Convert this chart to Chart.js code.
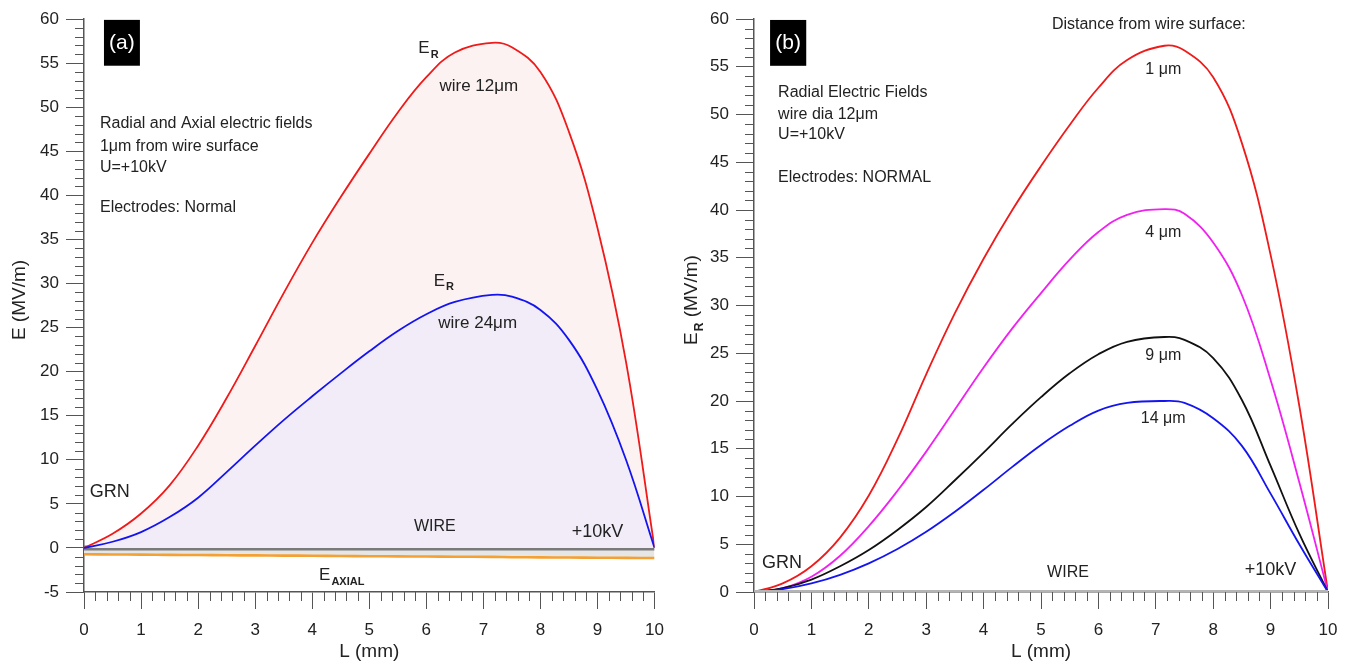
<!DOCTYPE html>
<html>
<head>
<meta charset="utf-8">
<script src="https://cdn.jsdelivr.net/npm/chart.js@4.4.0/dist/chart.umd.min.js"></script>
<style>
  html, body { margin: 0; padding: 0; background: #fff; }
  #wrap { position: relative; width: 1350px; height: 664px; overflow: hidden; }
  .panel { position: absolute; top: 0; width: 675px; height: 664px; }
</style>
</head>
<body>
<div id="wrap">
  <div class="panel" style="left:0"><canvas id="chartA" width="675" height="664"></canvas></div>
  <div class="panel" style="left:675px"><canvas id="chartB" width="675" height="664"></canvas></div>
</div>
<script>
const FONT = '"Liberation Sans", Arial, Helvetica, sans-serif';

// distance along the wire, mm (7.15 = position of the maximum)
const L = [0, 0.5, 1, 1.5, 2, 2.5, 3, 3.5, 4, 4.5, 5, 5.5, 6, 6.5, 7.15, 7.5, 8, 8.5, 9, 9.5, 10];

// panel (a): 1um from wire surface
const radial12 = [0, 1.6, 3.9, 7.1, 11.6, 17.0, 22.9, 28.9, 34.6, 39.8, 44.7, 49.4, 53.4, 56.2, 57.3, 56.8, 54.0, 47.2, 36.3, 21.1, 0];
const radial24 = [0, 0.7, 1.8, 3.5, 5.7, 8.6, 11.6, 14.5, 17.2, 19.8, 22.3, 24.6, 26.5, 27.9, 28.7, 28.5, 27.0, 23.6, 17.9, 10.0, 0];
const axial = [-0.72, -0.74, -0.76, -0.79, -0.81, -0.83, -0.85, -0.87, -0.89, -0.92, -0.94, -0.96, -0.98, -1.0, -1.02, -1.05, -1.07, -1.09, -1.11, -1.13, -1.15];
const wire = [0, 0, 0, 0, 0, 0, 0, 0, 0, 0, 0, 0, 0, 0, 0, 0, 0, 0, 0, 0, 0];

// panel (b): wire dia 12um, distance from surface
const d1um = [0, 0.9, 2.7, 5.7, 10.1, 16.0, 22.8, 29.2, 34.9, 40.0, 44.6, 48.9, 52.8, 55.7, 57.2, 56.7, 53.9, 47.0, 35.3, 19.5, 0];
const d4um = [0, 0.4, 1.6, 3.8, 6.9, 10.6, 14.7, 19.1, 23.5, 27.6, 31.3, 34.8, 37.7, 39.5, 40.1, 39.6, 36.6, 31.1, 22.2, 11.5, 0];
const d9um = [0, 0.4, 1.3, 2.7, 4.4, 6.5, 8.9, 11.7, 14.6, 17.6, 20.4, 22.9, 24.9, 26.2, 26.7, 26.4, 24.5, 20.1, 13.2, 6.1, 0];
const d14um = [0, 0.3, 0.9, 1.8, 3.0, 4.5, 6.3, 8.4, 10.7, 13.1, 15.4, 17.4, 19.0, 19.8, 20.0, 19.8, 18.2, 15.3, 10.3, 5.0, 0];

const pts = arr => arr.map((v, i) => ({ x: L[i], y: v }));

function line(data, color, width, fill, fillColor) {
  return {
    data: pts(data),
    borderColor: color,
    borderWidth: width,
    pointRadius: 0,
    tension: 0.4,
    fill: fill ? 'origin' : false,
    backgroundColor: fillColor || 'transparent'
  };
}

function txt(ctx, s, x, y, size, opts = {}) {
  ctx.font = (opts.bold ? 'bold ' : '') + size + 'px ' + FONT;
  ctx.fillStyle = opts.color || '#222';
  ctx.textAlign = opts.align || 'left';
  ctx.textBaseline = 'middle';
  ctx.fillText(s, x, y);
  return ctx.measureText(s).width;
}

function subText(ctx, main, sub, x, y, size, subSize) {
  const w = txt(ctx, main, x, y, size);
  txt(ctx, sub, x + w + 1, y + size * 0.38, subSize, { bold: true });
}

// minor ticks every 1 on y and every 0.2 on x
const minorTicks = {
  id: 'minorTicks',
  afterDraw(chart) {
    const { ctx, scales: { x, y } } = chart;
    ctx.save();
    ctx.strokeStyle = '#555';
    ctx.lineWidth = 1;
    ctx.beginPath();
    for (let i = 0; i <= 50; i++) {
      if (i % 5 === 0) continue;
      const px = Math.round(x.getPixelForValue(i * 0.2)) + 0.5;
      ctx.moveTo(px, y.bottom);
      ctx.lineTo(px, y.bottom + 9);
    }
    for (let v = Math.ceil(y.min); v <= y.max; v++) {
      if (v % 5 === 0) continue;
      const py = Math.round(y.getPixelForValue(v)) + 0.5;
      ctx.moveTo(x.left - 9, py);
      ctx.lineTo(x.left, py);
    }
    ctx.stroke();
    ctx.restore();
  }
};

function scalesFor(yMin, yWidth) {
  return {
    x: {
      type: 'linear', min: 0, max: 10,
      ticks: { stepSize: 1, font: { family: FONT, size: 17 }, color: '#222', padding: 11, maxRotation: 0, autoSkip: false },
      grid: { drawOnChartArea: false, drawTicks: true, tickLength: 17, color: '#555' },
      border: { display: true, color: '#555', width: 1.5 },
      afterFit: s => { s.height = 72; }
    },
    y: {
      type: 'linear', min: yMin, max: 60,
      ticks: { stepSize: 5, font: { family: FONT, size: 17 }, color: '#222', padding: 7 },
      grid: { drawOnChartArea: false, drawTicks: true, tickLength: 18, color: '#555' },
      border: { display: true, color: '#555', width: 1.5 },
      afterFit: s => { s.width = yWidth; }
    }
  };
}

// ---------- panel (a) ----------
const notesA = {
  id: 'notesA',
  afterDraw(chart) {
    const { ctx, scales: { x, y }, chartArea: ca } = chart;
    const X = v => x.getPixelForValue(v), Y = v => y.getPixelForValue(v);
    ctx.save();
    ctx.fillStyle = '#000';
    ctx.fillRect(X(0.35), Y(59.9), X(0.98) - X(0.35), Y(54.7) - Y(59.9));
    txt(ctx, '(a)', (X(0.35) + X(0.98)) / 2, (Y(59.9) + Y(54.7)) / 2, 21, { color: '#fff', align: 'center' });

    txt(ctx, 'Radial and Axial electric fields', X(0.28), Y(48.1), 16);
    txt(ctx, '1μm from wire surface', X(0.28), Y(45.5), 16);
    txt(ctx, 'U=+10kV', X(0.28), Y(43.2), 16);
    txt(ctx, 'Electrodes: Normal', X(0.28), Y(38.6), 16);

    subText(ctx, 'E', 'R', X(5.86), Y(56.7), 17, 11);
    txt(ctx, 'wire 12μm', X(6.23), Y(52.4), 17);
    subText(ctx, 'E', 'R', X(6.13), Y(30.3), 17, 11);
    txt(ctx, 'wire 24μm', X(6.21), Y(25.5), 17);

    txt(ctx, 'GRN', X(0.1), Y(6.35), 18);
    txt(ctx, 'WIRE', X(6.15), Y(2.4), 16, { align: 'center' });
    txt(ctx, '+10kV', X(8.55), Y(1.8), 18);
    subText(ctx, 'E', 'AXIAL', X(4.12), Y(-3.1), 17, 11);

    // axis titles
    txt(ctx, 'L (mm)', (ca.left + ca.right) / 2, 652, 19, { align: 'center' });
    ctx.translate(20, 300);
    ctx.rotate(-Math.PI / 2);
    txt(ctx, 'E (MV/m)', 0, 0, 19, { align: 'center' });
    ctx.restore();
  }
};

new Chart(document.getElementById('chartA'), {
  type: 'line',
  data: {
    datasets: [
      line(radial24, '#1414f0', 1.8, true, '#f1ecf7'),
      line(radial12, '#ef1a1a', 1.8, true, '#fdf2f2'),
      line(wire, '#7a7a7a', 5, false),
      line(axial, '#f5a033', 2.6, true, '#e6e6e6')
    ]
  },
  options: {
    responsive: false,
    animation: false,
    layout: { padding: { top: 19, right: 18, left: 0, bottom: 0 } },
    plugins: { legend: { display: false }, tooltip: { enabled: false } },
    scales: scalesFor(-5, 84)
  },
  plugins: [minorTicks, notesA]
});

// ---------- panel (b) ----------
const notesB = {
  id: 'notesB',
  afterDraw(chart) {
    const { ctx, scales: { x, y }, chartArea: ca } = chart;
    const X = v => x.getPixelForValue(v), Y = v => y.getPixelForValue(v);
    ctx.save();
    ctx.fillStyle = '#000';
    ctx.fillRect(X(0.28), Y(59.9), X(0.91) - X(0.28), Y(55.1) - Y(59.9));
    txt(ctx, '(b)', (X(0.28) + X(0.91)) / 2, (Y(59.9) + Y(55.1)) / 2, 21, { color: '#fff', align: 'center' });

    txt(ctx, 'Radial Electric Fields', X(0.42), Y(52.25), 16);
    txt(ctx, 'wire dia 12μm', X(0.42), Y(49.95), 16);
    txt(ctx, 'U=+10kV', X(0.42), Y(47.85), 16);
    txt(ctx, 'Electrodes: NORMAL', X(0.42), Y(43.35), 16);

    txt(ctx, 'Distance from wire surface:', X(5.19), Y(59.4), 16);
    txt(ctx, '1 μm', X(7.13), Y(54.66), 16, { align: 'center' });
    txt(ctx, '4 μm', X(7.13), Y(37.6), 16, { align: 'center' });
    txt(ctx, '9 μm', X(7.13), Y(24.8), 16, { align: 'center' });
    txt(ctx, '14 μm', X(7.13), Y(18.2), 16, { align: 'center' });

    txt(ctx, 'GRN', X(0.14), Y(3.0), 18);
    txt(ctx, 'WIRE', X(5.47), Y(2.0), 16, { align: 'center' });
    txt(ctx, '+10kV', X(8.55), Y(2.3), 18);

    txt(ctx, 'L (mm)', (ca.left + ca.right) / 2, 652, 19, { align: 'center' });
    ctx.translate(17, 300);
    ctx.rotate(-Math.PI / 2);
    ctx.font = '19px ' + FONT;
    const wE = ctx.measureText('E').width;
    ctx.font = 'bold 12px ' + FONT;
    const wR = ctx.measureText('R').width;
    ctx.font = '19px ' + FONT;
    const wRest = ctx.measureText(' (MV/m)').width;
    const start = -(wE + wR + 1 + wRest) / 2;
    subText(ctx, 'E', 'R', start, 0, 19, 12);
    txt(ctx, ' (MV/m)', start + wE + wR + 1, 0, 19);
    ctx.restore();
  }
};

new Chart(document.getElementById('chartB'), {
  type: 'line',
  data: {
    datasets: [
      line(wire, '#b4b4b4', 4, false),
      line(d14um, '#1414f0', 1.8, false),
      line(d9um, '#111111', 1.8, false),
      line(d4um, '#f020f0', 1.8, false),
      line(d1um, '#ef1a1a', 1.8, false)
    ]
  },
  options: {
    responsive: false,
    animation: false,
    layout: { padding: { top: 19, right: 22, left: 0, bottom: 0 } },
    plugins: { legend: { display: false }, tooltip: { enabled: false } },
    scales: scalesFor(0, 79)
  },
  plugins: [minorTicks, notesB]
});
</script>
</body>
</html>
